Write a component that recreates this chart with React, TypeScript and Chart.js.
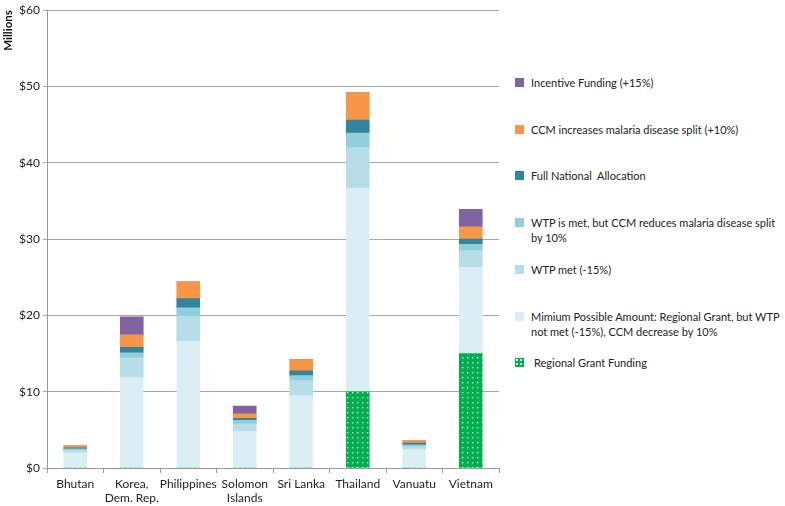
import React, { useEffect, useRef } from "react";
import { Chart, registerables } from "chart.js";

Chart.register(...registerables);

const categories: string[][] = [
  ["Bhutan"],
  ["Korea,", "Dem. Rep."],
  ["Philippines"],
  ["Solomon", "Islands"],
  ["Sri Lanka"],
  ["Thailand"],
  ["Vanuatu"],
  ["Vietnam"],
];

const regionalGrant = [0, 0, 0, 0, 0, 10, 0, 15];
const minimumPossible = [2.0, 11.85, 16.6, 4.8, 9.5, 26.7, 2.4, 11.3];
const wtpMet = [0.3, 2.6, 3.3, 1.0, 1.95, 5.3, 0.4, 2.2];
const wtpMetCcmReduces = [0.2, 0.65, 1.1, 0.45, 0.65, 1.9, 0.25, 0.8];
const fullNational = [0.15, 0.7, 1.2, 0.25, 0.65, 1.7, 0.2, 0.7];
const ccmIncreases = [0.25, 1.65, 2.2, 0.6, 1.45, 3.6, 0.35, 1.6];
const incentive = [0, 2.35, 0, 1.0, 0, 0, 0, 2.3];

const yTicks = [0, 10, 20, 30, 40, 50, 60];

const legendItems = [
  { label: ["Incentive Funding (+15%)"], color: "#8064A2", y: 83 },
  { label: ["CCM increases malaria disease split (+10%)"], color: "#F79646", y: 130 },
  { label: ["Full National\u00a0 Allocation"], color: "#31859C", y: 176 },
  { label: ["WTP is met, but CCM reduces malaria disease split", "by 10%"], color: "#92CDDC", y: 223 },
  { label: ["WTP met (-15%)"], color: "#B7DDE8", y: 270 },
  { label: ["Mimium Possible Amount: Regional Grant, but WTP", "not met (-15%), CCM decrease by 10%"], color: "#DAEEF3", y: 317 },
  { label: ["Regional Grant Funding"], color: "pattern", y: 363 },
];

function makePattern(): CanvasPattern | string {
  const c = document.createElement("canvas");
  c.width = 5;
  c.height = 5;
  const ctx = c.getContext("2d");
  if (!ctx) return "#00B050";
  ctx.fillStyle = "#00B050";
  ctx.fillRect(0, 0, 5, 5);
  ctx.fillStyle = "rgba(255,255,255,0.9)";
  ctx.fillRect(2, 2, 1.3, 1.3);
  return ctx.createPattern(c, "repeat") || "#00B050";
}

export default function App() {
  const ref = useRef<HTMLCanvasElement>(null);

  useEffect(() => {
    if (!ref.current) return;
    const pattern = makePattern();
    const font = { family: "Lato, 'Open Sans', sans-serif", size: 12 };
    const mk = (label: string, data: number[], color: any) => ({
      label,
      data,
      backgroundColor: color,
      borderWidth: 0,
      stack: "a",
      barThickness: 23,
    });
    const chart = new Chart(ref.current, {
      type: "bar",
      data: {
        labels: categories,
        datasets: [
          mk("Regional Grant Funding", regionalGrant, pattern),
          mk("Mimium Possible Amount", minimumPossible, "#DAEEF3"),
          mk("WTP met (-15%)", wtpMet, "#B7DDE8"),
          mk("WTP is met, but CCM reduces malaria disease split by 10%", wtpMetCcmReduces, "#92CDDC"),
          mk("Full National Allocation", fullNational, "#31859C"),
          mk("CCM increases malaria disease split (+10%)", ccmIncreases, "#F79646"),
          mk("Incentive Funding (+15%)", incentive, "#8064A2"),
        ],
      },
      options: {
        animation: false,
        responsive: false,
        maintainAspectRatio: false,
        layout: { padding: { left: 0, right: 11, top: 7, bottom: 0 } },
        plugins: { legend: { display: false }, tooltip: { enabled: false } },
        scales: {
          x: {
            stacked: true,
            grid: {
              display: true,
              drawOnChartArea: false,
              drawTicks: true,
              tickLength: 5,
              color: "#9a9a9a",
              offset: true,
            },
            border: { color: "#9a9a9a", width: 1 },
            ticks: { color: "#222", font, padding: 4, maxRotation: 0, autoSkip: false },
            afterFit: (s: any) => {
              s.height = 38;
            },
          },
          y: {
            stacked: true,
            min: 0,
            max: 60,
            afterBuildTicks: (s: any) => {
              s.ticks = yTicks.map((v) => ({ value: v }));
            },
            grid: { color: "#a6a6a6", lineWidth: 1, tickLength: 4 },
            border: { color: "#9a9a9a", width: 1 },
            ticks: {
              color: "#222",
              font,
              padding: 3,
              callback: (v: any) => "$" + v,
            },
            title: {
              display: true,
              text: "Millions",
              align: "end",
              color: "#111",
              font: { family: "Lato, 'Open Sans', sans-serif", size: 11.5, weight: "bold" },
              padding: { top: 1, bottom: 0 },
            },
            afterFit: (s: any) => {
              s.width = 47;
            },
          },
        },
      },
    });
    return () => chart.destroy();
  }, []);

  return (
    <div style={{ position: "absolute", left: 0, top: 0, width: 785, height: 506, background: "#fff", fontFamily: "Lato, 'Open Sans', sans-serif" }}>
      <canvas ref={ref} width={510} height={506} style={{ position: "absolute", left: 0, top: 0 }} />
      {legendItems.map((it, i) => (
        <div key={i} style={{ position: "absolute", left: 515, top: it.y - 5 }}>
          <div
            style={{
              position: "absolute",
              left: 0,
              top: 0,
              width: 9,
              height: 9,
              background:
                it.color === "pattern"
                  ? "radial-gradient(circle, rgba(255,255,255,0.9) 0.7px, transparent 0.9px) 0 0 / 4px 4px, #00B050"
                  : it.color,
            }}
          />
          <div
            style={{
              position: "absolute",
              left: it.color === "pattern" ? 19 : 16,
              top: -2,
              fontSize: 11,
              lineHeight: "14.5px",
              color: "#222",
              whiteSpace: "nowrap",
            }}
          >
            {it.label.map((l, j) => (
              <div key={j}>{l}</div>
            ))}
          </div>
        </div>
      ))}
    </div>
  );
}
